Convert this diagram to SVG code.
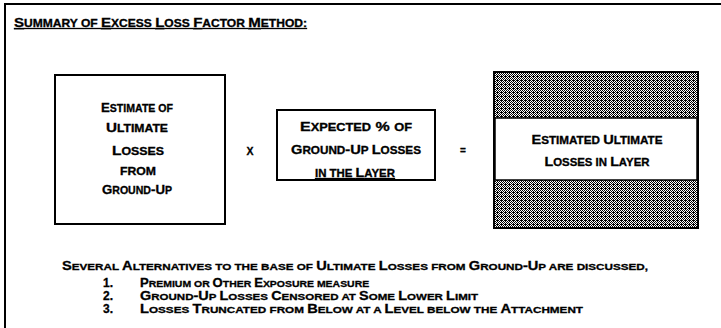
<svg xmlns="http://www.w3.org/2000/svg" width="721" height="328" viewBox="0 0 721 328">
<style>
  text { font-family: "Liberation Sans", Arial, sans-serif; font-weight: bold; font-size: 12.5px; fill: #000; stroke: #000; stroke-width: 0.3; }
  .s { font-size: 80%; }
  .c { text-anchor: middle; }
  .n { font-size: 12px; }
  .box { fill: #fff; stroke: #000; stroke-width: 2; }
  .frame { fill: none; stroke: #000; stroke-width: 2; }
</style>
<defs>
  <pattern id="dither" width="4" height="4" patternUnits="userSpaceOnUse">
    <rect width="4" height="4" fill="#fff"/>
    <rect x="0" y="0" width="1" height="1" fill="#000"/>
    <rect x="2" y="0" width="1" height="1" fill="#000"/>
    <rect x="1" y="1" width="1" height="1" fill="#000"/>
    <rect x="3" y="1" width="1" height="1" fill="#000"/>
    <rect x="0" y="2" width="1" height="1" fill="#000"/>
    <rect x="2" y="2" width="1" height="1" fill="#000"/>
    <rect x="1" y="3" width="1" height="1" fill="#000"/>
    <rect x="3" y="3" width="1" height="1" fill="#000"/>
    <rect x="1" y="0" width="1" height="1" fill="#000"/>
  </pattern>
</defs>
<rect width="721" height="328" fill="#fff"/>
<g id="frame">
  <path class="frame" d="M5,328 V4 H721"/>
</g>
<g id="title">
  <text x="14" y="27" textLength="293" lengthAdjust="spacingAndGlyphs" text-decoration="underline">S<tspan class="s">UMMARY OF </tspan>E<tspan class="s">XCESS </tspan>L<tspan class="s">OSS </tspan>F<tspan class="s">ACTOR </tspan>M<tspan class="s">ETHOD:</tspan></text>
</g>
<g id="node-estimate">
  <rect class="box" x="55" y="75" width="170" height="149"/>
  <text class="c" x="137" y="112" textLength="72" lengthAdjust="spacingAndGlyphs">E<tspan class="s">STIMATE OF</tspan></text>
  <text class="c" x="137" y="132" textLength="62" lengthAdjust="spacingAndGlyphs">U<tspan class="s">LTIMATE</tspan></text>
  <text class="c" x="138" y="155" textLength="52" lengthAdjust="spacingAndGlyphs">L<tspan class="s">OSSES</tspan></text>
  <text class="c" x="138" y="175" textLength="36" lengthAdjust="spacingAndGlyphs"><tspan class="s">FROM</tspan></text>
  <text class="c" x="137" y="194" textLength="70" lengthAdjust="spacingAndGlyphs">G<tspan class="s">ROUND</tspan>-U<tspan class="s">P</tspan></text>
</g>
<g id="connectors">
  <text class="c" x="250" y="155" style="font-size:10.5px">X</text>
  <text class="c" x="463" y="154" style="font-size:10px">=</text>
</g>
<g id="node-expected">
  <rect class="box" x="277" y="110" width="158" height="70"/>
  <text class="c" x="356" y="131" textLength="112" lengthAdjust="spacingAndGlyphs">E<tspan class="s">XPECTED</tspan> % <tspan class="s">OF</tspan></text>
  <text class="c" x="356" y="154" textLength="130" lengthAdjust="spacingAndGlyphs">G<tspan class="s">ROUND</tspan>-U<tspan class="s">P </tspan>L<tspan class="s">OSSES</tspan></text>
  <text class="c" x="355" y="177" textLength="80" lengthAdjust="spacingAndGlyphs" text-decoration="underline"><tspan class="s">IN THE </tspan>L<tspan class="s">AYER</tspan></text>
</g>
<g id="node-result">
  <rect x="494" y="72" width="204" height="156" fill="url(#dither)" stroke="#000" stroke-width="2"/>
  <rect x="495" y="118" width="202" height="62" fill="#fff" stroke="#000" stroke-width="1.5"/>
  <text class="c" x="597" y="144" textLength="131" lengthAdjust="spacingAndGlyphs">E<tspan class="s">STIMATED </tspan>U<tspan class="s">LTIMATE</tspan></text>
  <text class="c" x="597" y="166" textLength="105" lengthAdjust="spacingAndGlyphs">L<tspan class="s">OSSES IN </tspan>L<tspan class="s">AYER</tspan></text>
</g>
<g id="notes">
  <text class="n" x="62" y="270" textLength="586" lengthAdjust="spacingAndGlyphs">S<tspan class="s">EVERAL </tspan>A<tspan class="s">LTERNATIVES TO THE BASE OF </tspan>U<tspan class="s">LTIMATE </tspan>L<tspan class="s">OSSES FROM </tspan>G<tspan class="s">ROUND</tspan>-U<tspan class="s">P ARE DISCUSSED,</tspan></text>
  <text class="n" x="103" y="287">1.</text>
  <text class="n" transform="translate(140,287) scale(1.09,1)" x="0" y="0">P<tspan class="s">REMIUM OR </tspan>O<tspan class="s">THER </tspan>E<tspan class="s">XPOSURE MEASURE</tspan></text>
  <text class="n" x="103" y="300">2.</text>
  <text class="n" x="140" y="300" textLength="338" lengthAdjust="spacingAndGlyphs">G<tspan class="s">ROUND</tspan>-U<tspan class="s">P </tspan>L<tspan class="s">OSSES </tspan>C<tspan class="s">ENSORED AT </tspan>S<tspan class="s">OME </tspan>L<tspan class="s">OWER </tspan>L<tspan class="s">IMIT</tspan></text>
  <text class="n" x="103" y="313">3.</text>
  <text class="n" x="140" y="313" textLength="443" lengthAdjust="spacingAndGlyphs">L<tspan class="s">OSSES </tspan>T<tspan class="s">RUNCATED FROM </tspan>B<tspan class="s">ELOW AT A </tspan>L<tspan class="s">EVEL BELOW THE </tspan>A<tspan class="s">TTACHMENT</tspan></text>
</g>
</svg>
